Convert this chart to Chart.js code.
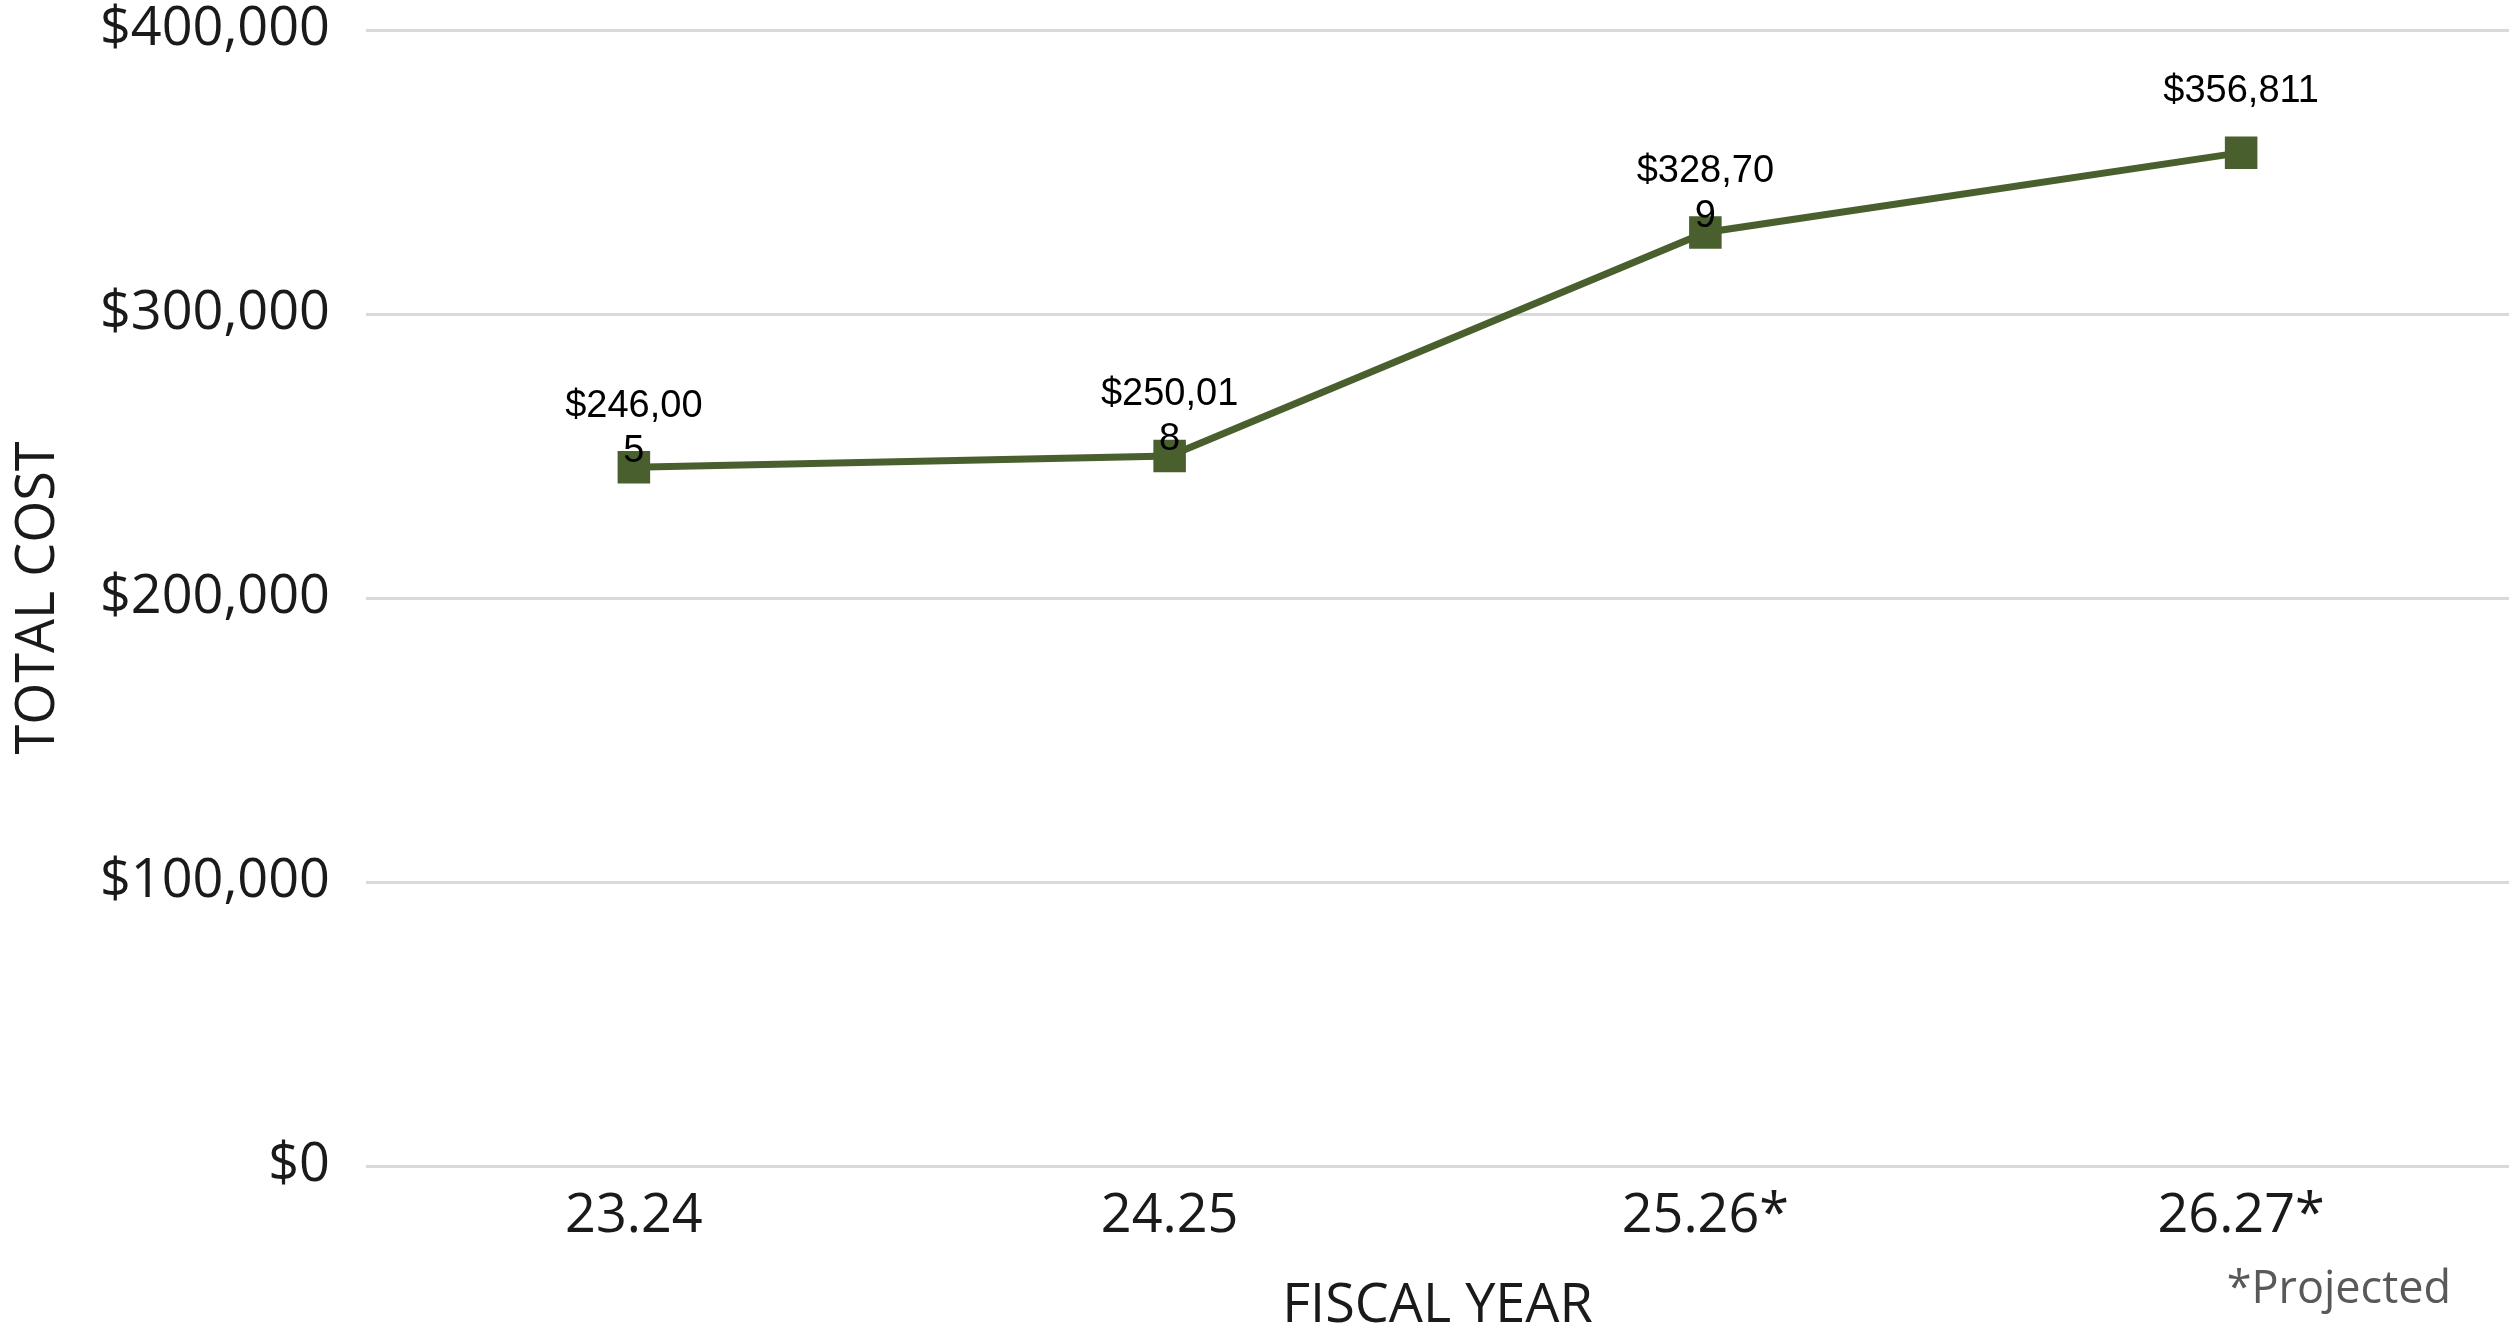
<!DOCTYPE html>
<html>
<head>
<meta charset="utf-8">
<script src="https://cdn.jsdelivr.net/npm/chart.js@4.4.1/dist/chart.umd.min.js"></script>
<style>
  html, body { margin: 0; padding: 0; background: #fff; overflow: hidden; }
  #wrap { width: 2509px; height: 1328px; position: relative; }
</style>
</head>
<body>
<div id="wrap"><canvas id="cost"></canvas></div>
<script>
// fiscal years on the x axis
const years = ["23.24", "24.25", "25.26*", "26.27*"];
// total cost per year
const totalCost = [246005, 250018, 328709, 356811];
// point labels as they are wrapped in the original
const pointLabels = [["$246,00", "5"], ["$250,01", "8"], ["$328,70", "9"], ["$356,811"]];
const yTicks = [0, 100000, 200000, 300000, 400000];

const green = "#4a5f2e";
const tickFont = { family: "'Open Sans'", size: 54 };
const titleFont = { family: "'Open Sans'", size: 54 };

// draws the value labels over the markers and the footnote
const labelPlugin = {
  id: "pointText",
  afterDatasetsDraw(chart) {
    const ctx = chart.ctx;
    const meta = chart.getDatasetMeta(0);
    ctx.save();
    ctx.fillStyle = "#000";
    ctx.font = "38px 'Liberation Sans', Arial, sans-serif";
    ctx.textAlign = "center";
    ctx.textBaseline = "middle";
    meta.data.forEach((pt, i) => {
      const lines = pointLabels[i];
      ctx.fillText(lines[0], pt.x, pt.y - 61);
      if (lines[1]) ctx.fillText(lines[1], pt.x, pt.y - 16);
    });
    ctx.restore();

    ctx.save();
    ctx.fillStyle = "#595959";
    ctx.font = "45px 'Open Sans'";
    ctx.textAlign = "right";
    ctx.textBaseline = "middle";
    ctx.fillText("*Projected", 2451, 1290);
    ctx.restore();
  }
};

new Chart(document.getElementById("cost"), {
  type: "line",
  data: {
    labels: years,
    datasets: [{
      data: totalCost,
      borderColor: green,
      backgroundColor: green,
      borderWidth: 7,
      pointStyle: "rect",
      pointRadius: 23,
      pointHoverRadius: 23,
      pointBorderWidth: 0,
      tension: 0
    }]
  },
  options: {
    responsive: true,
    maintainAspectRatio: false,
    animation: false,
    layout: { autoPadding: false, padding: { left: 6, right: 0, top: 0, bottom: 0 } },
    plugins: {
      legend: { display: false },
      tooltip: { enabled: false }
    },
    scales: {
      x: {
        offset: true,
        grid: { display: false, drawTicks: false },
        border: { display: false },
        ticks: { font: tickFont, color: "#1a1a1a", padding: 18 },
        title: {
          display: true,
          text: "FISCAL YEAR",
          font: titleFont,
          color: "#1a1a1a",
          padding: -11
        },
        afterFit(scale) {
          scale.height = 162;
          scale.paddingLeft = 0;
          scale.paddingRight = 0;
        }
      },
      y: {
        min: 0,
        max: 400000,
        afterBuildTicks(scale) { scale.ticks = yTicks.map(v => ({ value: v })); },
        grid: { color: "#d9d9d9", lineWidth: 3, drawTicks: false },
        border: { display: false },
        ticks: {
          font: tickFont,
          color: "#1a1a1a",
          padding: 36,
          callback: v => "$" + Number(v).toLocaleString("en-US")
        },
        title: {
          display: true,
          text: "TOTAL COST",
          font: titleFont,
          color: "#1a1a1a",
          padding: 0
        },
        afterFit(scale) {
          scale.width = 360;
          scale.paddingTop = 30;
          scale.paddingBottom = 0;
        }
      }
    }
  },
  plugins: [labelPlugin]
});
</script>
</body>
</html>
